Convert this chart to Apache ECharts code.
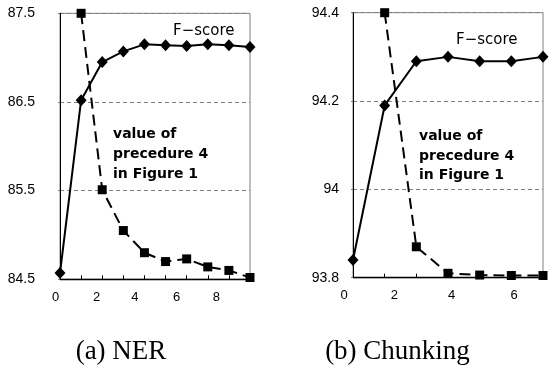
<!DOCTYPE html>
<html>
<head>
<meta charset="utf-8">
<script src="https://cdn.jsdelivr.net/npm/echarts@6/dist/echarts.min.js"></script>
<style>
  html, body { margin: 0; padding: 0; background: #fff; }
  #chart { width: 552px; height: 371px; }
</style>
</head>
<body>
<div id="chart"></div>
<script>
// NER panel
var nerX = [0, 1, 2, 3, 4, 5, 6, 7, 8, 9];
var nerFscore = [84.57, 86.52, 86.95, 87.07, 87.15, 87.14, 87.13, 87.15, 87.14, 87.12];
var nerProc4 = [null, 87.5, 85.51, 85.05, 84.8, 84.7, 84.73, 84.64, 84.6, 84.52];
var nerTickLabels = ['0', '2', '4', '6', '8'];

// Chunking panel
var chkX = [0, 1, 2, 3, 4, 5, 6];
var chkFscore = [93.84, 94.19, 94.29, 94.3, 94.29, 94.29, 94.3];
var chkProc4 = [null, 94.4, 93.87, 93.81, 93.806, 93.805, 93.805];
var chkTickLabels = ['0', '2', '4', '6'];

// the original tick labels drift left of their ticks (px), kept as style
var nerLabelShift = [4.5, 5.5, 9.5, 10, 12.5];
var chkLabelShift = [9, 22, 28, 29];

function pairs(xs, ys) {
  var out = [];
  for (var i = 0; i < xs.length; i++) {
    if (ys[i] !== null) out.push([xs[i], ys[i]]);
  }
  return out;
}

function plotGrid(left, top, height) {
  return { left: left, top: top, width: 190, height: height, show: true,
    outerBoundsMode: 'none', containLabel: false,
    borderColor: '#808080', borderWidth: 1, backgroundColor: 'transparent' };
}

function plotX(gi, max, labels, shifts) {
  var rich = {};
  labels.forEach(function (t, i) {
    rich['l' + i] = { fontFamily: 'Liberation Sans', fontSize: 13, lineHeight: 12, color: '#000',
      padding: [0, shifts[i] * 2, 0, 0] };
  });
  return {
    gridIndex: gi, type: 'value', min: 0, max: max, interval: 1,
    axisLine: { show: true, onZero: false, lineStyle: { color: '#000', width: 1.3 } },
    axisTick: { show: true, inside: true, length: 4, lineStyle: { color: '#000' } },
    axisLabel: {
      margin: 12, showMaxLabel: true, hideOverlap: false, lineHeight: 12,
      formatter: function (v) {
        var i = labels.indexOf(String(v));
        return i < 0 ? '' : '{l' + i + '|' + labels[i] + '}';
      },
      rich: rich
    },
    splitLine: { show: false }
  };
}

function plotY(gi, min, max, step, margin) {
  return {
    gridIndex: gi, type: 'value', min: min, max: max, interval: step,
    axisLine: { show: true, lineStyle: { color: '#000', width: 1 } },
    axisTick: { show: true, length: 2, lineStyle: { color: '#808080' } },
    axisLabel: {
      margin: margin, hideOverlap: false,
      fontFamily: 'Liberation Sans', fontSize: 14, lineHeight: 12, color: '#000',
      formatter: function (v) {
        return v.toFixed(1).replace(/\.0$/, '');
      }
    },
    splitLine: { show: true, lineStyle: { color: '#808080', type: [4, 3], width: 1 } }
  };
}

function fLine(idx, data) {
  return {
    type: 'line', xAxisIndex: idx, yAxisIndex: idx, data: data,
    symbol: 'diamond', symbolSize: [11, 12], clip: false,
    itemStyle: { color: '#000' },
    lineStyle: { color: '#000', width: 2 },
    animation: false
  };
}

function pLine(idx, data) {
  return {
    type: 'line', xAxisIndex: idx, yAxisIndex: idx, data: data,
    symbol: 'rect', symbolSize: 9, clip: false,
    itemStyle: { color: '#000' },
    lineStyle: { color: '#000', width: 2, type: [11, 6] },
    animation: false
  };
}

var chart = echarts.init(document.getElementById('chart'), null, { renderer: 'canvas' });

var option = {
  backgroundColor: '#fff',
  animation: false,
  grid: [
    plotGrid(60, 13.3, 266),
    plotGrid(353, 12.7, 265)
  ],
  xAxis: [
    plotX(0, 9, nerTickLabels, nerLabelShift),
    plotX(1, 6, chkTickLabels, chkLabelShift)
  ],
  yAxis: [
    plotY(0, 84.5, 87.5, 1, 25),
    plotY(1, 93.8, 94.4, 0.2, 14)
  ],
  series: [
    fLine(0, pairs(nerX, nerFscore)),
    pLine(0, pairs(nerX, nerProc4)),
    fLine(1, pairs(chkX, chkFscore)),
    pLine(1, pairs(chkX, chkProc4))
  ],
  graphic: [
    { type: 'text', left: 173, top: 24, style: { text: 'F\u2212score', font: '15px "DejaVu Sans"', fill: '#000' } },
    { type: 'text', left: 456, top: 33, style: { text: 'F\u2212score', font: '15px "DejaVu Sans"', fill: '#000' } },
    { type: 'text', left: 113, top: 124, style: { text: 'value of\nprecedure 4\nin Figure 1', font: 'bold 14px "DejaVu Sans"', lineHeight: 20, fill: '#000' } },
    { type: 'text', left: 419, top: 127, style: { text: 'value of\nprecedure 4\nin Figure 1', font: 'bold 14px "DejaVu Sans"', lineHeight: 19.5, fill: '#000' } },
    { type: 'text', x: 121, y: 352, style: { text: '(a) NER', font: '27px "Liberation Serif"', fill: '#000', align: 'center', verticalAlign: 'middle' } },
    { type: 'text', x: 397.5, y: 352, style: { text: '(b) Chunking', font: '27px "Liberation Serif"', fill: '#000', align: 'center', verticalAlign: 'middle' } }
  ]
};

chart.setOption(option);
</script>
</body>
</html>
